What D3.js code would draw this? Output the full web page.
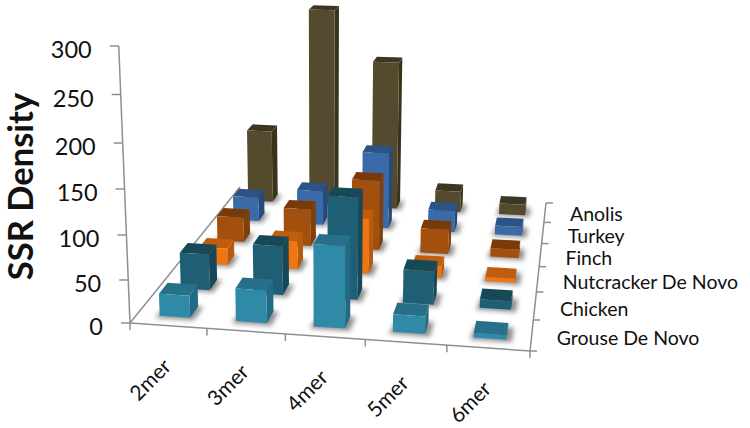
<!DOCTYPE html>
<html>
<head>
<meta charset="utf-8">
<script src="https://cdn.jsdelivr.net/npm/d3@7"></script>
<style>
body { margin: 0; background: #fff; }
text { font-family: Lato, "Open Sans", sans-serif; fill: #111; }
</style>
</head>
<body>
<script>
const categories = ["2mer", "3mer", "4mer", "5mer", "6mer"];
// front of the chart first
const seriesNames = ["Grouse De Novo", "Chicken", "Nutcracker De Novo", "Finch", "Turkey", "Anolis"];
const grouse = [26, 38, 93, 20, 5];
const chicken = [44, 59, 120, 40, 10];
const nutcracker = [21, 36, 69, 15, 5];
const finch = [33, 49, 90, 32, 11];
const turkey = [33, 47, 102, 29, 12];
const anolis = [101, 267, 202, 29, 15];
const yTicks = [0, 50, 100, 150, 200, 250, 300];

const allValues = [grouse, chicken, nutcracker, finch, turkey, anolis];
const frontColors = ["#2f8aa8", "#1f5f75", "#ee7511", "#a3500f", "#3a6aa8", "#544b2e"];
const topColors = ["#28708a", "#164858", "#c05c0c", "#7a3a08", "#2c5286", "#3d3722"];
const sideColors = ["#226a84", "#16485a", "#b8590c", "#80400c", "#264a7a", "#38321e"];

const width = 750, height = 428;
const svg = d3.select("body").append("svg").attr("width", width).attr("height", height);

svg.append("defs").append("filter").attr("id", "soft")
    .attr("x", "-30%").attr("y", "-30%").attr("width", "160%").attr("height", "160%")
    .append("feGaussianBlur").attr("stdDeviation", 2.8);

// floor corners on screen: front left, front right, back right, back left
const floor = [[130, 323], [530, 351], [546, 203], [240, 187]];
const den = (floor[1][0] - floor[2][0]) * (floor[3][1] - floor[2][1]) - (floor[3][0] - floor[2][0]) * (floor[1][1] - floor[2][1]);
const sx = floor[0][0] - floor[1][0] + floor[2][0] - floor[3][0];
const sy = floor[0][1] - floor[1][1] + floor[2][1] - floor[3][1];
const g = (sx * (floor[3][1] - floor[2][1]) - (floor[3][0] - floor[2][0]) * sy) / den;
const h = ((floor[1][0] - floor[2][0]) * sy - sx * (floor[1][1] - floor[2][1])) / den;

function floorPoint(u, v) {
    const w = g * u + h * v + 1;
    const x = ((floor[1][0] - floor[0][0] + g * floor[1][0]) * u + (floor[3][0] - floor[0][0] + h * floor[3][0]) * v + floor[0][0]) / w;
    const y = ((floor[1][1] - floor[0][1] + g * floor[1][1]) * u + (floor[3][1] - floor[0][1] + h * floor[3][1]) * v + floor[0][1]) / w;
    return { x, y, w };
}

const xScale = d3.scaleBand().domain(categories).range([0, 1]).padding(0.6).paddingOuter(0.3);
const depthScale = d3.scaleBand().domain(seriesNames).range([0, 1]).padding(0.6).paddingOuter(0.3);
// the value axis is not even on screen, the picture has it stretched at the top
const zScale = d3.scaleLinear().domain(yTicks).range([0, 43, 88, 134, 180, 228.5, 277]);

// verticals lean away from a far vanishing point under the chart
const vanishX = 325, vanishDist = 4800;
function project(u, v, value) {
    const p = floorPoint(u, v);
    const lift = zScale(value) / p.w;
    return [p.x + (p.x - vanishX) * lift / vanishDist, p.y - lift];
}

const poly = d3.line().curve(d3.curveLinearClosed);
const axisColor = "#8f8f8f";

const axes = svg.append("g").attr("stroke", axisColor).attr("stroke-width", 1.5).attr("fill", "none");
const segment = (a, b) => axes.append("path").attr("d", d3.line()([a, b]));

// axis lines
segment(project(0, 0, 0), project(0, 0, 300));
segment(project(0, 0, 0), project(1, 0, 0));
segment(project(0, 0, 0), project(0, 1, 0));
segment(project(1, 0, 0), project(1, 1, 0));

yTicks.forEach(t => {
    const p = project(0, 0, t);
    segment(p, [p[0] - 9, p[1]]);
    svg.append("text").attr("x", p[0] - 27).attr("y", p[1] + 4).attr("dy", "0.35em")
        .attr("text-anchor", "end").attr("font-size", 23.5).text(t);
});

d3.range(categories.length + 1).forEach(i => {
    const p = project(i * xScale.step(), 0, 0);
    segment(p, [p[0], p[1] + 7]);
});
d3.range(seriesNames.length + 1).forEach(i => {
    const p = project(1, i * depthScale.step(), 0);
    segment(p, [p[0] + 7, p[1]]);
});

categories.forEach(c => {
    const p = project(xScale(c) + xScale.bandwidth() / 2, 0, 0);
    svg.append("text").attr("text-anchor", "middle").attr("dy", "0.35em")
        .attr("transform", `translate(${p[0] - 18},${p[1] + 54}) rotate(-45)`)
        .attr("font-size", 21).text(c);
});

seriesNames.forEach((s, i) => {
    const p = project(1, depthScale(s) + depthScale.bandwidth() / 2, 0);
    // Anolis sits a bit higher so it clears Turkey
    svg.append("text").attr("x", p[0] + 25).attr("y", p[1] + (i === 5 ? 8 : 10))
        .attr("font-size", 19.5).text(s);
});

svg.append("text").attr("transform", "translate(33,186.5) rotate(-90)")
    .attr("text-anchor", "middle").attr("font-size", 34.5).attr("font-weight", 700)
    .text("SSR Density");

// bars back to front
const bars = [];
seriesNames.forEach((s, si) => {
    categories.forEach((c, ci) => {
        bars.push({ si, value: allValues[si][ci], u0: xScale(c), u1: xScale(c) + xScale.bandwidth(),
            v0: depthScale(s), v1: depthScale(s) + depthScale.bandwidth() });
    });
});
bars.sort((a, b) => b.si - a.si);

svg.append("g").attr("filter", "url(#soft)").selectAll("path").data(bars).join("path")
    .attr("fill", "#8c8c8c")
    .attr("d", d => poly([
        project(d.u0 - 0.008, d.v0 - 0.012, 0), project(d.u1 + 0.014, d.v0 - 0.012, 0),
        project(d.u1 + 0.014, d.v1, 0), project(d.u0, d.v1, 0)
    ]));

const barGroups = svg.append("g").selectAll("g").data(bars).join("g");
barGroups.append("path").attr("fill", d => sideColors[d.si])
    .attr("d", d => poly([project(d.u1, d.v0, 0), project(d.u1, d.v1, 0), project(d.u1, d.v1, d.value), project(d.u1, d.v0, d.value)]));
barGroups.append("path").attr("fill", d => topColors[d.si])
    .attr("d", d => poly([project(d.u0, d.v0, d.value), project(d.u1, d.v0, d.value), project(d.u1, d.v1, d.value), project(d.u0, d.v1, d.value)]));
barGroups.append("path").attr("fill", d => frontColors[d.si])
    .attr("d", d => poly([project(d.u0, d.v0, 0), project(d.u1, d.v0, 0), project(d.u1, d.v0, d.value), project(d.u0, d.v0, d.value)]));
</script>
</body>
</html>
